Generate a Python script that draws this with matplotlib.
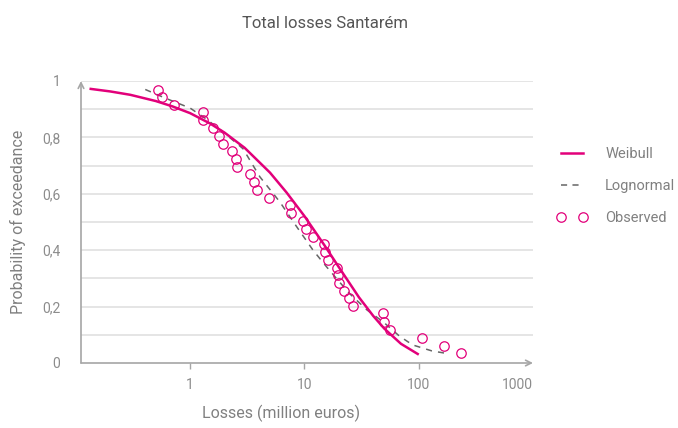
import matplotlib.pyplot as plt
from matplotlib.lines import Line2D

# values
obs_x = [0.525, 0.57, 0.725, 1.3, 1.3, 1.59, 1.79, 1.94, 2.33, 2.52, 2.57, 3.34, 3.62, 3.84,
         4.9, 7.47, 7.6, 9.7, 10.3, 11.9, 14.8, 15.1, 16.0, 19.2, 19.6, 20.0, 22.1, 24.5, 26.5,
         48.5, 49.5, 55.8, 106, 165, 233]
obs_y = [0.968, 0.943, 0.915, 0.89, 0.862, 0.833, 0.805, 0.777, 0.752, 0.723, 0.695, 0.67,
         0.642, 0.613, 0.585, 0.56, 0.532, 0.504, 0.475, 0.447, 0.422, 0.394, 0.365, 0.337,
         0.312, 0.284, 0.255, 0.23, 0.202, 0.177, 0.145, 0.117, 0.089, 0.06, 0.035]

weibull_x = [0.135, 0.2, 0.3, 0.5, 0.7, 1, 1.5, 2, 3, 5, 7, 10, 15, 20, 30, 40, 50, 70, 98]
weibull_y = [0.972, 0.963, 0.951, 0.929, 0.91, 0.886, 0.849, 0.817, 0.763, 0.675, 0.604,
             0.521, 0.417, 0.34, 0.233, 0.167, 0.122, 0.068, 0.032]

lognorm_x = [0.405, 0.6, 1.0, 1.41, 2.0, 2.9, 4.08, 6.1, 8.6, 11.9, 15.7, 20, 25, 35.3,
             48.5, 68, 88.6, 130, 169]
lognorm_y = [0.97, 0.94, 0.904, 0.863, 0.815, 0.76, 0.66, 0.571, 0.482, 0.40, 0.34, 0.29,
             0.245, 0.188, 0.147, 0.095, 0.064, 0.043, 0.035]

yticks = [0, 0.2, 0.4, 0.6, 0.8, 1]
ytick_labels = ['0', '0,2', '0,4', '0,6', '0,8', '1']
xticks = [1, 10, 100, 1000]
xtick_labels = ['1', '10', '100', '1000']

magenta = '#e2007a'
grey_txt = '#808080'
axis_col = '#a6a6a6'

plt.rcParams['font.family'] = ['Roboto', 'DejaVu Sans']

fig = plt.figure(figsize=(6.78, 4.28), dpi=100)
ax = fig.add_axes([81 / 678, 65 / 428, 452 / 678, 282 / 428])

ax.set_xscale('log')
ax.set_xlim(0.111, 1000)
ax.set_ylim(0, 1)

# horizontal grid every 0.1
for g in [0.1, 0.2, 0.3, 0.4, 0.5, 0.6, 0.7, 0.8, 0.9, 1.0]:
    ax.axhline(g, color='#e0e0e0', lw=1.2, zorder=0)

ax.plot(lognorm_x, lognorm_y, color='#666666', lw=1.1, dashes=(4, 4), zorder=2)
ax.plot(weibull_x, weibull_y, color=magenta, lw=1.8, zorder=3)
ax.plot(obs_x, obs_y, 'o', mfc='none', mec=magenta, ms=6.8, mew=0.9, zorder=4)

for s in ax.spines.values():
    s.set_visible(False)
ax.annotate('', xy=(1.0, 0), xytext=(0, 0), xycoords='axes fraction',
            arrowprops=dict(arrowstyle='->', color=axis_col, lw=1.2, shrinkA=0, shrinkB=0))
ax.annotate('', xy=(0, 1.0), xytext=(0, 0), xycoords='axes fraction',
            arrowprops=dict(arrowstyle='->', color=axis_col, lw=1.2, shrinkA=0, shrinkB=0))

ax.minorticks_off()
ax.set_yticks(yticks, labels=ytick_labels)
ax.set_xticks(xticks, labels=xtick_labels)
ax.tick_params(axis='y', length=0, pad=15, labelsize=10, labelcolor='#8c8c8c')
ax.tick_params(axis='x', length=4, width=1, color=axis_col, pad=7, labelsize=10,
               labelcolor='#8c8c8c')
for t in ax.xaxis.get_major_ticks():
    if t.get_loc() == 1000:
        t.tick1line.set_visible(False)
        t.label1.set_horizontalalignment('right')

ax.set_xlabel('Losses (million euros)', fontsize=11.5, color=grey_txt)
ax.xaxis.label.set_va('center')
ax.xaxis.set_label_coords(0.442, -0.177)
ax.set_ylabel('Probability of exceedance', fontsize=11.5, color=grey_txt)
ax.yaxis.label.set_va('center')
ax.yaxis.set_label_coords(-0.139, 0.5)

fig.text(325 / 678, 1 - 23 / 428, 'Total losses Santarém', ha='center', va='center',
         fontsize=12, color='#555555')

handles = [Line2D([], [], color=magenta, lw=1.8),
           Line2D([], [], color='#666666', lw=1.1, dashes=(4, 3.5)),
           Line2D([], [], ls='none', marker='o', mfc='none', mec=magenta, ms=6.8, mew=0.9)]
fig.legend(handles, ['Weibull', 'Lognormal', 'Observed'], loc='center left',
           bbox_to_anchor=(557 / 678, 1 - 186 / 428), frameon=False, fontsize=10.5,
           labelcolor=grey_txt, handlelength=2.1, handletextpad=1.2, labelspacing=1.25,
           numpoints=2, borderpad=0, borderaxespad=0)

fig.savefig('out.png', dpi=100)
